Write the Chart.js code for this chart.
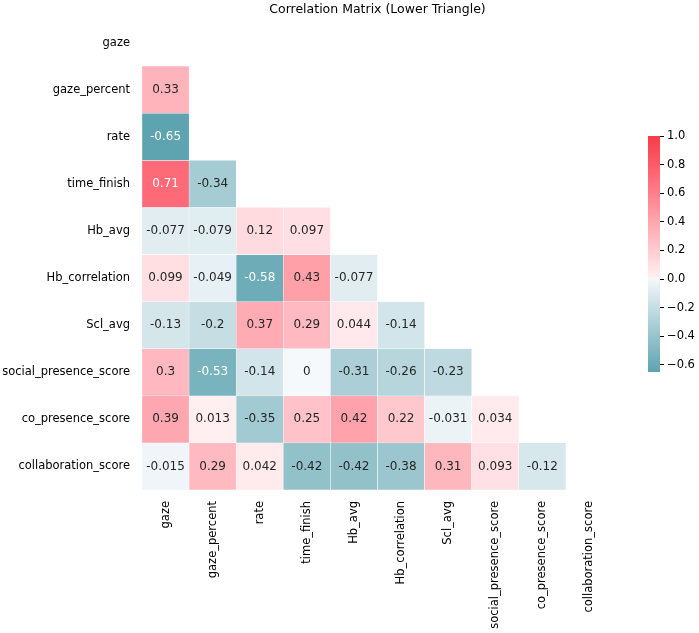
<!DOCTYPE html>
<html>
<head>
<meta charset="utf-8">
<script src="https://cdn.jsdelivr.net/npm/chart.js@4/dist/chart.umd.min.js"></script>
<style>
    html, body { margin: 0; padding: 0; background: #fff; }
    #heat { position: absolute; left: 0; top: 0; }
    #cbar { position: absolute; left: 600px; top: 110px; }
</style>
</head>
<body>
<canvas id="heat" width="699" height="633"></canvas>
<canvas id="cbar" width="99" height="290"></canvas>
<script>

const variables = ['gaze', 'gaze_percent', 'rate', 'time_finish', 'Hb_avg', 'Hb_correlation',
    'Scl_avg', 'social_presence_score', 'co_presence_score', 'collaboration_score'];

// lower triangle, one array per row (null = no value / NaN)
const gazeRow = [];
const gazePercentRow = [0.33];
const rateRow = [-0.65, null];
const timeFinishRow = [0.71, -0.34, null];
const hbAvgRow = [-0.077, -0.079, 0.12, 0.097];
const hbCorrelationRow = [0.099, -0.049, -0.58, 0.43, -0.077];
const sclAvgRow = [-0.13, -0.2, 0.37, 0.29, 0.044, -0.14];
const socialPresenceRow = [0.3, -0.53, -0.14, 0, -0.31, -0.26, -0.23];
const coPresenceRow = [0.39, 0.013, -0.35, 0.25, 0.42, 0.22, -0.031, 0.034];
const collaborationRow = [-0.015, 0.29, 0.042, -0.42, -0.42, -0.38, 0.31, 0.093, -0.12];

const colorbarMin = -0.65;
const colorbarMax = 1.0;
const colorbarTicks = [-0.6, -0.4, -0.2, 0.0, 0.2, 0.4, 0.6, 0.8, 1.0];

const rows = [gazeRow, gazePercentRow, rateRow, timeFinishRow, hbAvgRow, hbCorrelationRow,
    sclAvgRow, socialPresenceRow, coPresenceRow, collaborationRow];

// colour map (teal -> near white -> red)
const stopVals = [-0.65, -0.01, 0, 0.01, 0.71, 1];
const stopRgb = [[94, 163, 176], [240, 246, 249], [246, 249, 251], [255, 240, 242], [255, 106, 120], [246, 60, 72]];

function rgbFor(v) {
    v = Math.max(stopVals[0], Math.min(stopVals[stopVals.length - 1], v));
    let k = 0;
    while (k < stopVals.length - 2 && v > stopVals[k + 1]) k++;
    const t = (v - stopVals[k]) / (stopVals[k + 1] - stopVals[k]);
    return stopRgb[k].map((c, i) => Math.round(c + (stopRgb[k + 1][i] - c) * t));
}

function colourFor(v) {
    const c = rgbFor(v);
    return `rgb(${c[0]},${c[1]},${c[2]})`;
}

function textColourFor(v) {
    const lin = rgbFor(v).map(c => {
        c = c / 255;
        return c <= 0.03928 ? c / 12.92 : Math.pow((c + 0.055) / 1.055, 2.4);
    });
    const lum = 0.2126 * lin[0] + 0.7152 * lin[1] + 0.0722 * lin[2];
    return lum < 0.408 ? '#ffffff' : '#262626';
}

const font = { family: 'DejaVu Sans', size: 11.5 };

const datasets = rows.map((row, i) => ({
    label: variables[i],
    values: row,
    data: variables.map((_, j) => (row[j] !== undefined && row[j] !== null) ? [i - 0.5, i + 0.5] : null),
    backgroundColor: variables.map((_, j) => (row[j] !== undefined && row[j] !== null) ? colourFor(row[j]) : 'rgba(0,0,0,0)'),
    borderColor: '#ffffff',
    borderWidth: 0.5,
    borderSkipped: false
}));

const cellText = {
    id: 'cellText',
    afterDatasetsDraw(chart) {
        const ctx = chart.ctx;
        ctx.save();
        ctx.font = `12px 'DejaVu Sans'`;
        ctx.textAlign = 'center';
        ctx.textBaseline = 'middle';
        chart.data.datasets.forEach((ds, i) => {
            const meta = chart.getDatasetMeta(i);
            meta.data.forEach((bar, j) => {
                const v = ds.values[j];
                if (v === undefined || v === null) return;
                ctx.fillStyle = textColourFor(v);
                ctx.fillText(String(v), bar.x, (bar.y + bar.base) / 2);
            });
        });
        ctx.restore();
    }
};

new Chart(document.getElementById('heat'), {
    type: 'bar',
    data: { labels: variables, datasets: datasets },
    options: {
        responsive: false,
        animation: false,
        layout: { padding: { top: 0, right: 86, left: 0, bottom: 0 } },
        datasets: { bar: { grouped: false, barPercentage: 1, categoryPercentage: 1 } },
        plugins: {
            legend: { display: false },
            tooltip: { enabled: false },
            title: {
                display: true,
                fullSize: false,
                text: 'Correlation Matrix (Lower Triangle)',
                color: '#000',
                font: { family: 'DejaVu Sans', size: 12.5, weight: 'normal', lineHeight: 1.2 },
                padding: { top: 2, bottom: 2 }
            }
        },
        scales: {
            x: {
                grid: { display: false, drawTicks: false },
                border: { display: false },
                ticks: { minRotation: 90, maxRotation: 90, autoSkip: false, padding: 11, color: '#000', font: font },
                afterFit(scale) { scale.height = 143; }
            },
            y: {
                type: 'linear',
                reverse: true,
                min: -0.5,
                max: 9.5,
                grid: { display: false, drawTicks: false },
                border: { display: false },
                afterBuildTicks(scale) { scale.ticks = variables.map((_, i) => ({ value: i })); },
                ticks: { autoSkip: false, padding: 12, color: '#000', font: font, callback: v => variables[v] },
                afterFit(scale) { scale.width = 142; }
            }
        }
    },
    plugins: [cellText]
});

// colour bar
new Chart(document.getElementById('cbar'), {
    type: 'bar',
    data: {
        labels: [''],
        datasets: [{
            data: [[colorbarMin, colorbarMax]],
            borderWidth: 0,
            backgroundColor(c) {
                const chart = c.chart;
                if (!chart.chartArea) return null;
                const y = chart.scales.y;
                const g = chart.ctx.createLinearGradient(0, y.getPixelForValue(colorbarMin), 0, y.getPixelForValue(colorbarMax));
                for (let s = 0; s <= 165; s++) {
                    const v = colorbarMin + (colorbarMax - colorbarMin) * s / 165;
                    g.addColorStop(s / 165, colourFor(v));
                }
                return g;
            }
        }]
    },
    options: {
        responsive: false,
        animation: false,
        layout: { padding: { left: 48, top: 26, bottom: 28, right: 0 } },
        datasets: { bar: { barPercentage: 1, categoryPercentage: 1 } },
        plugins: { legend: { display: false }, tooltip: { enabled: false } },
        scales: {
            x: { display: false },
            y: {
                position: 'right',
                min: colorbarMin,
                max: colorbarMax,
                grid: { drawOnChartArea: false, drawTicks: true, tickLength: 4, color: '#000', lineWidth: 1 },
                border: { display: false },
                afterBuildTicks(scale) { scale.ticks = colorbarTicks.map(v => ({ value: v })); },
                ticks: {
                    padding: 3,
                    color: '#000',
                    font: font,
                    callback: v => (v < 0 ? '\u2212' : '') + Math.abs(v).toFixed(1)
                },
                afterFit(scale) { scale.width = 39; }
            }
        }
    }
});
</script>
</body>
</html>
